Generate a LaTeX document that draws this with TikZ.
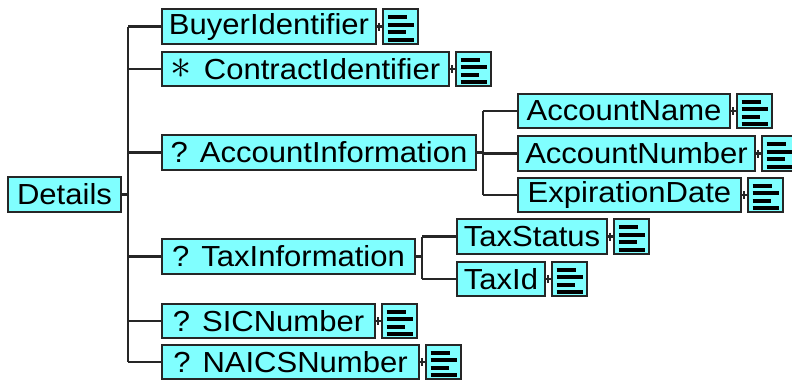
\documentclass[tikz,border=0pt]{standalone}
\usepackage{fontspec}
\setmainfont{Liberation Sans}[FakeStretch=1.07]
\usetikzlibrary{positioning}
\definecolor{boxcyan}{HTML}{80FFFF}
\definecolor{edgegray}{HTML}{262626}

\begin{document}
\begin{tikzpicture}[x=1pt,y=-1pt]
        \tikzstyle{every node}=[draw=edgegray, line width=2pt, fill=boxcyan, inner sep=0pt, minimum height=34.5pt, font=\fontsize{29}{30}\selectfont, anchor=west]
        \tikzstyle{link}=[draw=edgegray, line width=2.2pt]
        \tikzstyle{doc}=[minimum width=34.5pt, path picture={
            \foreach \yy/\len in {8/19,15.5/26,23/18,30.5/26}
                \draw[line width=3.6pt, black] ([xshift=4.5pt,yshift=-\yy pt]path picture bounding box.north west) -- ++(\len pt,0);}]
        \useasboundingbox (0,0) rectangle (792,381);
        % element boxes
        \node[minimum width=113pt] (details) at (7,194.5) {Details};
        \node[minimum width=214pt] (buyer) at (161,26.5) {BuyerIdentifier};
        \node[minimum width=287pt] (contract) at (161,69) {\raisebox{1pt}{\scalebox{1.7}{$\ast$}}\hspace{12pt}ContractIdentifier};
        \node[minimum width=314pt] (accinfo) at (161,152.5) {?\hspace{12pt}AccountInformation};
        \node[minimum width=212pt] (accname) at (517,111) {AccountName};
        \node[minimum width=237pt] (accnum) at (517,153.5) {AccountNumber};
        \node[minimum width=223pt] (accdate) at (517,195) {ExpirationDate};
        \node[minimum width=253pt] (taxinfo) at (161,256.5) {?\hspace{12pt}TaxInformation};
        \node[minimum width=150pt] (taxstatus) at (456,236.5) {TaxStatus};
        \node[minimum width=88pt] (taxid) at (456,279) {TaxId};
        \node[minimum width=213pt] (sic) at (161,321) {?\hspace{12pt}SICNumber};
        \node[minimum width=257pt] (naics) at (161,362) {?\hspace{12pt}NAICSNumber};
        % content icons
        \foreach \n in {buyer,contract,accname,accnum,accdate,taxstatus,taxid,sic,naics}
            \node[doc, right=5pt of \n] (\n-doc) {};
        % tree lines
        \coordinate (trunk) at (128,0);
        \coordinate (accfork) at (483,0);
        \coordinate (taxfork) at (422,0);
        \draw[link] (details.east) -- (details.east -| trunk);
        \draw[link] (buyer.west -| trunk) -- (naics.west -| trunk);
        \foreach \n in {buyer,contract,accinfo,taxinfo,sic,naics}
            \draw[link] (\n.west) -- (\n.west -| trunk);
        \draw[link] (accinfo.east) -- (accinfo.east -| accfork);
        \draw[link] (accname.west -| accfork) -- (accdate.west -| accfork);
        \foreach \n in {accname,accnum,accdate}
            \draw[link] (\n.west) -- (\n.west -| accfork);
        \draw[link] (taxinfo.east) -- (taxinfo.east -| taxfork);
        \draw[link] (taxstatus.west -| taxfork) -- (taxid.west -| taxfork);
        \foreach \n in {taxstatus,taxid}
            \draw[link] (\n.west) -- (\n.west -| taxfork);
        % box to icon
        \foreach \n in {buyer,contract,accname,accnum,accdate,taxstatus,taxid,sic,naics} {
            \draw[link] (\n.east) -- (\n-doc.west);
            \draw[link] ([xshift=2pt,yshift=4pt]\n.east) -- ([xshift=2pt,yshift=-4pt]\n.east);
        }
    \end{tikzpicture}
\end{document}
